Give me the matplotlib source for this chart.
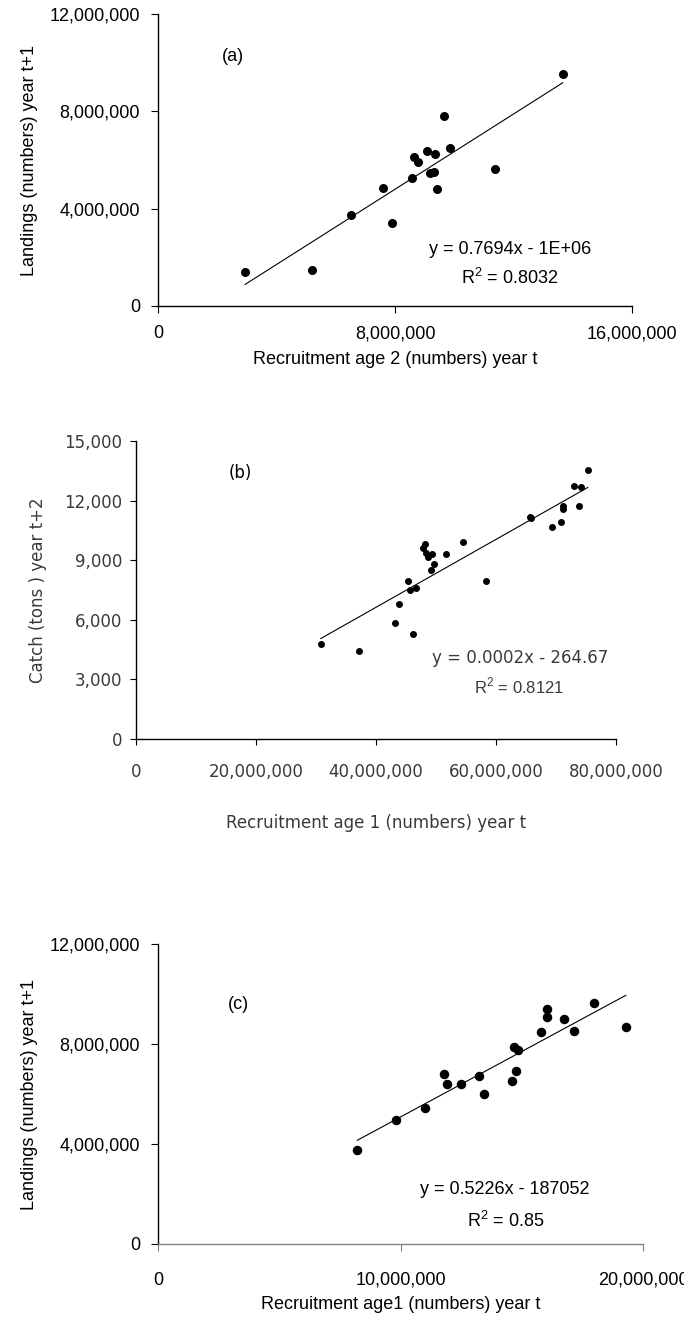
import numpy as np
import matplotlib
matplotlib.use("Agg")
import matplotlib.pyplot as plt
from matplotlib.ticker import FuncFormatter

plt.rcParams['font.family'] = ['Liberation Sans', 'DejaVu Sans']
plt.rcParams['mathtext.fontset'] = 'custom'
plt.rcParams['mathtext.rm'] = 'Liberation Sans'

# (a) recruitment age 2 vs landings t+1
rec2_a = [2.94e6, 5.21e6, 6.50e6, 7.61e6, 7.91e6, 8.56e6, 8.64e6, 8.76e6, 9.09e6,
          9.17e6, 9.33e6, 9.35e6, 9.43e6, 9.67e6, 9.84e6, 11.37e6, 13.66e6]
land_a = [1.39e6, 1.49e6, 3.75e6, 4.86e6, 3.41e6, 5.27e6, 6.14e6, 5.92e6, 6.37e6,
          5.48e6, 5.52e6, 6.23e6, 4.81e6, 7.80e6, 6.48e6, 5.62e6, 9.55e6]

# (b) recruitment age 1 vs catch (tons) t+2
rec1_b = [30.8e6, 37.2e6, 43.1e6, 43.8e6, 46.1e6, 45.3e6, 45.6e6, 46.7e6, 48.2e6, 47.9e6,
          48.4e6, 48.7e6, 49.3e6, 49.6e6, 49.1e6, 51.7e6, 54.5e6, 58.3e6, 65.6e6, 65.8e6,
          69.3e6, 70.9e6, 71.2e6, 71.2e6, 73.0e6, 74.2e6, 73.8e6, 75.3e6]
catch_b = [4800, 4410, 5820, 6780, 5280, 7970, 7510, 7580, 9810, 9630,
           9380, 9180, 9330, 8810, 8510, 9330, 9910, 7970, 11170, 11120,
           10680, 10940, 11730, 11560, 12750, 12680, 11710, 13550]

# (c) recruitment age 1 vs landings t+1
rec1_c = [8.22e6, 9.80e6, 11.01e6, 11.81e6, 11.92e6, 12.48e6, 13.24e6, 13.43e6, 14.60e6,
          14.75e6, 14.68e6, 14.86e6, 15.79e6, 16.05e6, 16.05e6, 16.76e6, 17.17e6, 17.98e6, 19.29e6]
land_c = [3.76e6, 4.95e6, 5.43e6, 6.81e6, 6.41e6, 6.41e6, 6.71e6, 6.01e6, 6.51e6,
          6.91e6, 7.88e6, 7.75e6, 8.48e6, 9.41e6, 9.07e6, 9.01e6, 8.53e6, 9.65e6, 8.69e6]

comma = FuncFormatter(lambda v, p: f"{v:,.0f}")

fig = plt.figure(figsize=(6.84, 13.18), dpi=100)
W, H = 684., 1318.


def make_axes(l, r, t, b):
    return fig.add_axes([l / W, 1 - b / H, (r - l) / W, (b - t) / H])


def style(ax, col='black', bottom_col='black'):
    for s in ['top', 'right']:
        ax.spines[s].set_visible(False)
    ax.spines['left'].set_color(col)
    ax.spines['bottom'].set_color(bottom_col)
    ax.spines['left'].set_linewidth(1)
    ax.spines['bottom'].set_linewidth(1)
    ax.xaxis.set_major_formatter(comma)
    ax.yaxis.set_major_formatter(comma)


def trend(ax, x, y):
    m, c = np.polyfit(x, y, 1)
    xs = np.array([min(x), max(x)])
    ax.plot(xs, m * xs + c, color='black', lw=0.8)


# ---- panel a
ax = make_axes(158, 632, 14, 306)
ax.scatter(rec2_a, land_a, s=30, color='black', zorder=3)
trend(ax, rec2_a, land_a)
ax.set_xlim(0, 16e6)
ax.set_ylim(0, 12e6)
ax.set_xticks([0, 8e6, 16e6])
ax.set_yticks([0, 4e6, 8e6, 12e6])
style(ax)
ax.tick_params(direction='out', length=5, labelsize=13, colors='black')
ax.tick_params(axis='y', pad=8)
ax.tick_params(axis='x', pad=9)
ax.set_xlabel('Recruitment age 2 (numbers) year t', fontsize=13, labelpad=6)
ax.set_ylabel('Landings (numbers) year t+1', fontsize=13, labelpad=8)
ax.text(0.158, 0.854, '(a)', transform=ax.transAxes, fontsize=13, ha='center', va='center')
ax.text(0.743, 0.195, 'y = 0.7694x - 1E+06', transform=ax.transAxes, fontsize=13,
        ha='center', va='center')
ax.text(0.743, 0.095, 'R$^2$ = 0.8032', transform=ax.transAxes, fontsize=13,
        ha='center', va='center')

# ---- panel b
gb = '#3a3a3a'
ax = make_axes(136, 616, 441, 739)
ax.scatter(rec1_b, catch_b, s=16, color='black', zorder=3)
trend(ax, rec1_b, catch_b)
ax.set_xlim(0, 80e6)
ax.set_ylim(0, 15000)
ax.set_xticks([0, 20e6, 40e6, 60e6, 80e6])
ax.set_yticks(range(0, 15001, 3000))
style(ax)
ax.tick_params(direction='out', length=4, labelsize=12, colors='black', labelcolor=gb)
for lab in ax.get_xticklabels() + ax.get_yticklabels():
    lab.set_family('DejaVu Sans')
ax.tick_params(axis='y', pad=6)
ax.tick_params(axis='x', pad=13)
ax.set_xlabel('Recruitment age 1 (numbers) year t', fontsize=12, color=gb,
              family='DejaVu Sans', labelpad=24)
ax.set_ylabel('Catch (tons ) year t+2', fontsize=12, color=gb, family='DejaVu Sans', labelpad=12)
ax.text(0.218, 0.894, '(b)', transform=ax.transAxes, fontsize=12, color='black',
        family='DejaVu Sans', ha='center', va='center')
ax.text(0.80, 0.271, 'y = 0.0002x - 264.67', transform=ax.transAxes, fontsize=12, color=gb,
        family='DejaVu Sans', ha='center', va='center')
ax.text(0.798, 0.178, r'R$^2$ = 0.8121', transform=ax.transAxes, fontsize=12, color=gb,
        ha='center', va='center')

# ---- panel c
ax = make_axes(158, 643, 944, 1244)
ax.scatter(rec1_c, land_c, s=34, color='black', zorder=3)
trend(ax, rec1_c, land_c)
ax.set_xlim(0, 20e6)
ax.set_ylim(0, 12e6)
ax.set_xticks([0, 10e6, 20e6])
ax.set_yticks([0, 4e6, 8e6, 12e6])
style(ax, bottom_col='#808080')
ax.tick_params(direction='out', length=5, labelsize=13, colors='black')
ax.tick_params(axis='x', color='#808080', pad=15)
ax.tick_params(axis='y', pad=8)
ax.set_xlabel('Recruitment age1 (numbers) year t', fontsize=13, labelpad=5)
ax.set_ylabel('Landings (numbers) year t+1', fontsize=13, labelpad=8)
ax.text(0.165, 0.797, '(c)', transform=ax.transAxes, fontsize=13, ha='center', va='center')
ax.text(0.715, 0.18, 'y = 0.5226x - 187052', transform=ax.transAxes, fontsize=13,
        ha='center', va='center')
ax.text(0.717, 0.077, 'R$^2$ = 0.85', transform=ax.transAxes, fontsize=13,
        ha='center', va='center')

fig.savefig('out.png', dpi=100)
